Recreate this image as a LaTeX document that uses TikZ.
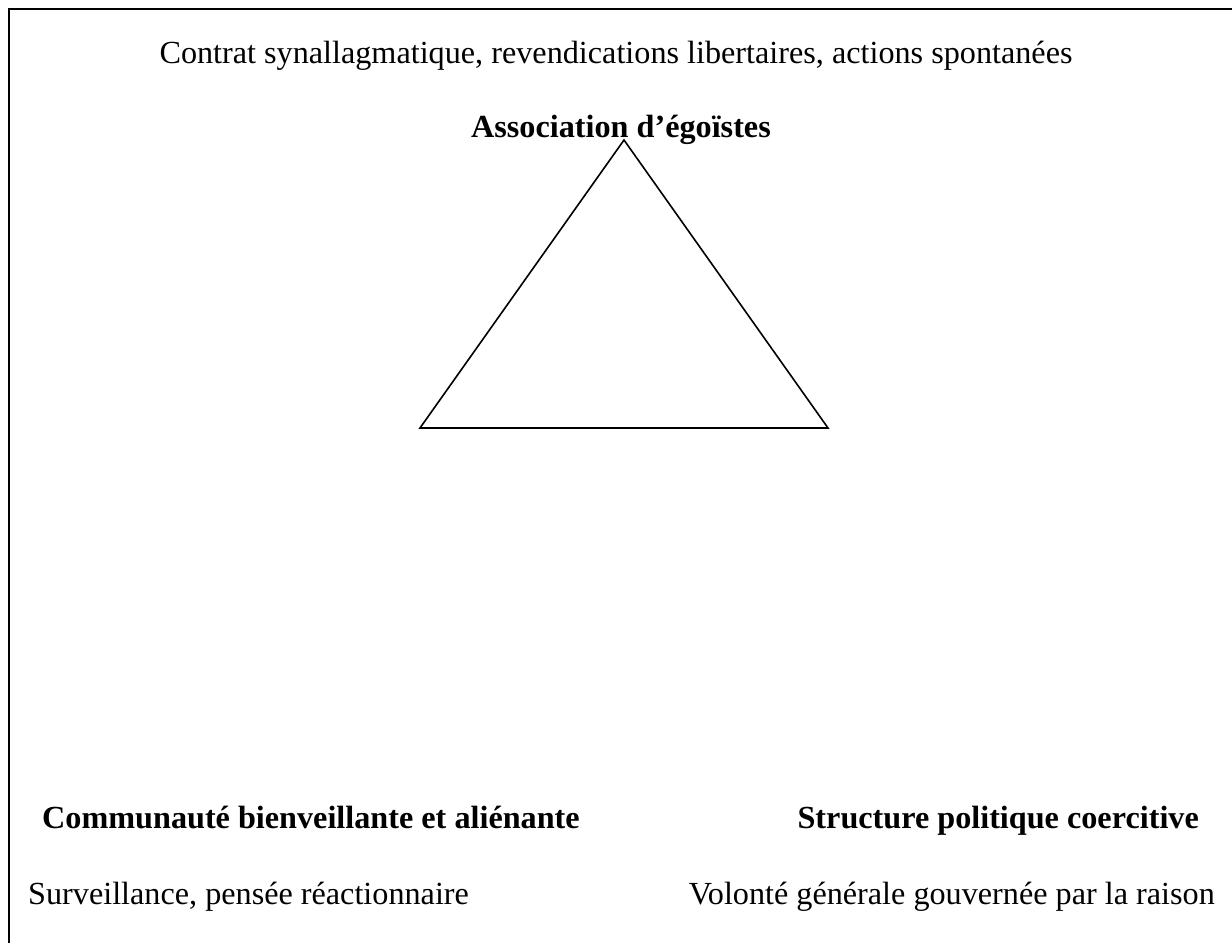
\documentclass[tikz,border=0pt]{standalone}
\usepackage{fontspec}
\setmainfont{Liberation Serif}
\tikzset{
  lbl/.style={inner sep=0pt, font=\fontsize{32.2}{38}\selectfont},
  blbl/.style={inner sep=0pt, font=\fontsize{32.2}{38}\selectfont\bfseries},
}
\begin{document}
\begin{tikzpicture}[x=1pt,y=-1pt]
\useasboundingbox (0,0) rectangle (1232,943);
\fill[white] (0,0) rectangle (1232,943);
% frame
\coordinate (fb) at (9,943);
\coordinate (fc) at (9,9);
\coordinate (fr) at (1232,9);
\draw[line width=2.4pt] (fb) -- (fc) -- (fr);
% texts
\node[lbl, anchor=base] (top) at (616,63) {Contrat synallagmatique, revendications libertaires, actions spontanées};
\node[blbl, anchor=base] (assoc) at (621,137) {Association d’égoïstes};
\node[blbl, anchor=base west] (comm) at (42,828) {Communauté bienveillante et aliénante};
\node[blbl, anchor=base east] (struct) at (1199,828) {Structure politique coercitive};
\node[lbl, anchor=base west] (surv) at (28,904) {Surveillance, pensée réactionnaire};
\node[lbl, anchor=base east] (vol) at (1215,904) {Volonté générale gouvernée par la raison};
% triangle
\coordinate (ta) at (624,140);
\coordinate (tl) at (420,428);
\coordinate (tr) at (828,428);
\draw[line width=1.6pt, line join=miter] (ta) -- (tl) -- (tr) -- cycle;
\end{tikzpicture}
\end{document}
